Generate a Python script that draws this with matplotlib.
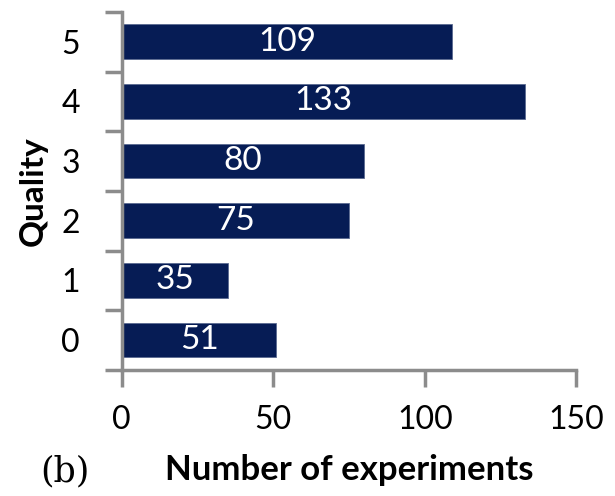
import matplotlib.pyplot as plt
import numpy as np

quality = ['0', '1', '2', '3', '4', '5']
counts = [51, 35, 75, 80, 133, 109]

bar_color = '#061C55'
spine_color = '#8C8C8C'

fig = plt.figure(figsize=(6.15, 4.96), dpi=100)
ax = fig.add_axes([0.198, 0.254, 0.739, 0.722])

y = np.arange(len(quality))
bars = ax.barh(y, counts, height=0.58, color=bar_color, edgecolor='#5A6A90', linewidth=0.6)

for b, c in zip(bars, counts):
    ax.text(b.get_width() / 2, b.get_y() + b.get_height() / 2, str(c),
            ha='center', va='center', color='white', fontsize=24, family='Lato')

ax.set_xlim(0, 150)
ax.set_ylim(-0.5, 5.5)
ax.set_xticks([0, 50, 100, 150])
ax.set_yticks(y)
ax.set_yticklabels(quality)
# ticks sit on the category boundaries, labels at the centres
ax.set_yticks(np.arange(-0.5, 6.0, 1.0), minor=True)
ax.tick_params(axis='y', which='major', length=0, pad=30, labelsize=23)
ax.tick_params(axis='y', which='minor', length=12, width=2.5, color=spine_color, direction='out')
ax.tick_params(axis='x', length=12, width=2.5, color=spine_color, direction='out', pad=13, labelsize=23)
for lbl in ax.get_xticklabels() + ax.get_yticklabels():
    lbl.set_family('Lato')

for s in ['top', 'right']:
    ax.spines[s].set_visible(False)
for s in ['left', 'bottom']:
    ax.spines[s].set_color(spine_color)
    ax.spines[s].set_linewidth(2.5)

ax.set_xlabel('Number of experiments', fontsize=25, fontweight='bold', family='Lato', labelpad=14)
ax.set_ylabel('Quality', fontsize=24, fontweight='bold', family='Lato', labelpad=10)

fig.text(0.065, 0.05, '(b)', fontsize=25, family='DejaVu Serif', va='center')

plt.savefig('out.png', dpi=100)
